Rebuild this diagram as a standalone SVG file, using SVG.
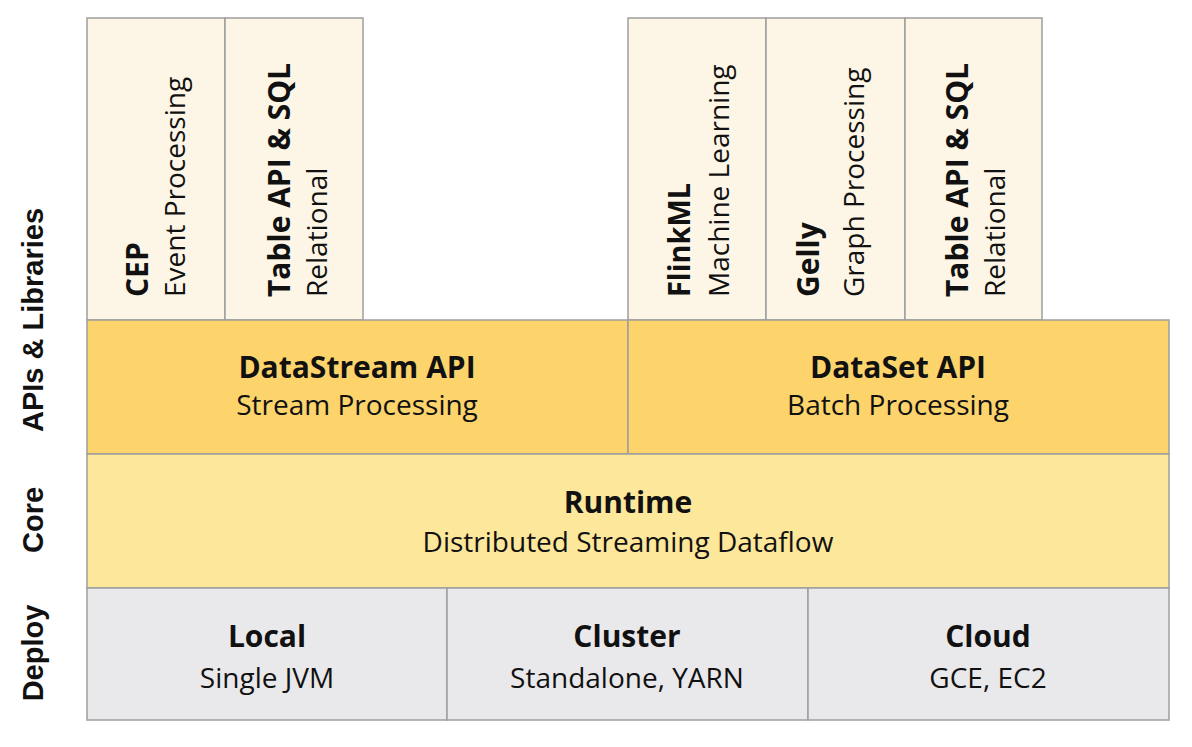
<svg xmlns="http://www.w3.org/2000/svg" width="1192" height="747" viewBox="0 0 1192 747">
<style>
.box{stroke:#9e9e9e;stroke-width:1.5}
.lib{fill:#fdf6e7}
.api{fill:#fcd46b}
.core{fill:#fde79b}
.dep{fill:#e9e9eb}
.t{font-family:"Open Sans","Liberation Sans",sans-serif;font-weight:700;font-size:30px;fill:#111}
.s{font-family:"Open Sans","Liberation Sans",sans-serif;font-size:28px;fill:#111}
.side{font-family:"Liberation Sans",Arial,sans-serif;font-weight:700;font-size:29px;fill:#111}
.c{text-anchor:middle}
</style>
<rect width="1192" height="747" fill="#ffffff"/>
<g id="side-labels">
<text class="side c" transform="translate(43,320) rotate(-90)">APIs &amp; Libraries</text>
<text class="side c" transform="translate(43,520) rotate(-90)">Core</text>
<text class="side c" transform="translate(43,653) rotate(-90)">Deploy</text>
</g>
<g id="cep">
<rect class="box lib" x="87" y="18" width="138" height="302"/>
<text class="t" transform="translate(148,297) rotate(-90)">CEP</text>
<text class="s" transform="translate(185,297) rotate(-90)">Event Processing</text>
</g>
<g id="table-stream">
<rect class="box lib" x="225" y="18" width="138" height="302"/>
<text class="t" transform="translate(290,297) rotate(-90)">Table API &amp; SQL</text>
<text class="s" transform="translate(327,297) rotate(-90)">Relational</text>
</g>
<g id="flinkml">
<rect class="box lib" x="628" y="18" width="138" height="302"/>
<text class="t" transform="translate(690,297) rotate(-90)" textLength="114" lengthAdjust="spacingAndGlyphs">FlinkML</text>
<text class="s" transform="translate(729,297) rotate(-90)">Machine Learning</text>
</g>
<g id="gelly">
<rect class="box lib" x="766" y="18" width="139" height="302"/>
<text class="t" transform="translate(819,297) rotate(-90)">Gelly</text>
<text class="s" transform="translate(864,297) rotate(-90)">Graph Processing</text>
</g>
<g id="table-batch">
<rect class="box lib" x="905" y="18" width="137" height="302"/>
<text class="t" transform="translate(968,297) rotate(-90)">Table API &amp; SQL</text>
<text class="s" transform="translate(1005,297) rotate(-90)">Relational</text>
</g>
<g id="datastream">
<rect class="box api" x="87" y="320" width="541" height="134"/>
<text class="t c" x="357" y="378">DataStream API</text>
<text class="s c" x="357" y="415">Stream Processing</text>
</g>
<g id="dataset">
<rect class="box api" x="628" y="320" width="541" height="134"/>
<text class="t c" x="898" y="378">DataSet API</text>
<text class="s c" x="898" y="415">Batch Processing</text>
</g>
<g id="runtime">
<rect class="box core" x="87" y="454" width="1082" height="134"/>
<text class="t c" x="628" y="513">Runtime</text>
<text class="s c" x="628" y="552">Distributed Streaming Dataflow</text>
</g>
<g id="local">
<rect class="box dep" x="87" y="588" width="360" height="132"/>
<text class="t c" x="267" y="647">Local</text>
<text class="s c" x="267" y="688">Single JVM</text>
</g>
<g id="cluster">
<rect class="box dep" x="447" y="588" width="361" height="132"/>
<text class="t c" x="627" y="647">Cluster</text>
<text class="s c" x="627" y="688">Standalone, YARN</text>
</g>
<g id="cloud">
<rect class="box dep" x="808" y="588" width="361" height="132"/>
<text class="t c" x="988" y="647">Cloud</text>
<text class="s c" x="988" y="688">GCE, EC2</text>
</g>
<g id="connectors"></g>
</svg>
